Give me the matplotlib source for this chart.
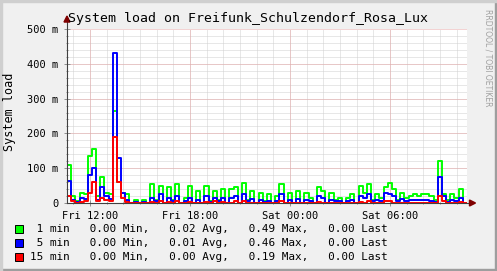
import matplotlib
matplotlib.use("Agg")
import matplotlib.pyplot as plt
import numpy as np
from matplotlib.patches import Rectangle, Polygon

# time axis: hours since Fri 00:00, 15 minute samples
t_start = 10.62
t_step = 0.25
t_end = 34.62

# system load in milli units (m)
load1 = [110, 20, 5, 30, 25, 135, 155, 20, 75, 30, 25, 265, 60, 30, 25, 0,
         10, 0, 10, 0, 55, 10, 50, 0, 45, 10, 55, 0, 15, 50, 0, 35,
         0, 50, 5, 35, 10, 40, 0, 40, 45, 0, 58, 10, 35, 0, 30, 5,
         25, 0, 20, 55, 0, 30, 0, 35, 0, 30, 15, 0, 45, 35, 0, 30,
         10, 15, 0, 15, 25, 0, 48, 30, 55, 10, 25, 15, 45, 58, 40, 10,
         30, 15, 20, 25, 20, 25, 25, 20, 10, 120, 25, 10, 25, 15, 40, 0]
load5 = [62, 10, 3, 15, 12, 80, 100, 10, 45, 20, 12, 432, 130, 30, 10, 0,
         3, 0, 3, 0, 15, 5, 25, 0, 15, 5, 20, 0, 5, 15, 0, 10,
         0, 20, 3, 15, 5, 15, 0, 15, 20, 0, 25, 5, 12, 0, 10, 3,
         5, 0, 5, 25, 0, 10, 0, 12, 0, 10, 5, 0, 20, 15, 0, 10,
         5, 5, 0, 5, 8, 0, 20, 15, 25, 5, 10, 5, 30, 25, 20, 5,
         12, 5, 8, 10, 8, 10, 10, 5, 3, 75, 20, 3, 8, 5, 15, 0]
load15 = [20, 5, 0, 3, 5, 30, 60, 5, 15, 8, 5, 190, 60, 15, 3, 0,
          0, 0, 0, 0, 3, 0, 5, 0, 3, 0, 5, 0, 0, 3, 0, 0,
          0, 3, 0, 5, 0, 3, 0, 0, 5, 0, 5, 0, 0, 0, 0, 0,
          0, 0, 0, 5, 0, 0, 0, 0, 0, 0, 0, 0, 3, 0, 0, 0,
          0, 0, 0, 0, 0, 0, 3, 0, 5, 0, 0, 0, 5, 5, 0, 0,
          0, 0, 0, 0, 0, 0, 0, 0, 0, 20, 5, 0, 0, 0, 3, 0]

tick_hours = [12, 18, 24, 30]
tick_labels = ["Fri 12:00", "Fri 18:00", "Sat 00:00", "Sat 06:00"]
y_ticks = [0, 100, 200, 300, 400, 500]
y_labels = ["0", "100 m", "200 m", "300 m", "400 m", "500 m"]

series = [
    (" 1 min", load1, "#00ff00", "0.00", "0.02", "0.49", "0.00"),
    (" 5 min", load5, "#0000ff", "0.00", "0.01", "0.46", "0.00"),
    ("15 min", load15, "#ff0000", "0.00", "0.00", "0.19", "0.00"),
]

W, H = 497, 271
fig = plt.figure(figsize=(W / 100, H / 100), dpi=100)
fig.patch.set_facecolor("#f0f0f0")
mono = "DejaVu Sans Mono"

# plot area in pixels
x0, x1, y0, y1 = 67, 467, 203, 29
ax = fig.add_axes([x0 / W, 1 - y0 / H, (x1 - x0) / W, (y0 - y1) / H])
ax.set_facecolor("white")
ax.set_xlim(t_start, t_end)
ax.set_ylim(0, 500)

for s in ["top", "right", "left", "bottom"]:
    ax.spines[s].set_visible(False)

# grid
minor_x = np.arange(11, 35, 1)
minor_y = np.arange(20, 500, 20)
for v in minor_x:
    ax.axvline(v, color="#d0d0d0", lw=0.72, ls=(0, (1, 1)), zorder=1)
for v in minor_y:
    ax.axhline(v, color="#d0d0d0", lw=0.72, ls=(0, (1, 1)), zorder=1)
for v in tick_hours:
    ax.axvline(v, color="#e8a8a8", lw=0.72, ls=(0, (1, 1)), zorder=1.5)
for v in y_ticks[1:]:
    ax.axhline(v, color="#e8a8a8", lw=0.72, ls=(0, (1, 1)), zorder=1.5)

# data lines
n = len(load1)
edges = t_start + t_step * np.arange(n + 1)
for name, vals, col, *_ in series:
    v = list(vals) + [vals[-1]]
    ax.step(edges, v, where="post", color=col, lw=1.4, zorder=3)

ax.set_xticks(tick_hours)
ax.set_xticklabels(tick_labels, fontfamily=mono, fontsize=7.5)
ax.set_xticks(minor_x, minor=True)
ax.set_yticks(y_ticks)
ax.set_yticklabels(y_labels, fontfamily=mono, fontsize=7.5)
ax.set_yticks(minor_y, minor=True)
ax.tick_params(axis="both", which="both", direction="inout", color="#909090",
               width=0.7, pad=4)
ax.tick_params(axis="both", which="major", length=4)
ax.tick_params(axis="both", which="minor", length=2)

# axes with arrows
ax.plot([t_start, t_start], [0, 520], color="#404040", lw=0.8, clip_on=False, zorder=4)
ax.plot([t_start, t_end + 0.15], [0, 0], color="#404040", lw=0.8, clip_on=False, zorder=4)
dx = (t_end - t_start) / 400
dy = 500 / 174
ax.add_patch(Polygon([[t_start - 3 * dx, 520], [t_start + 3 * dx, 520], [t_start, 520 + 6 * dy]],
                     closed=True, color="#7f0000", clip_on=False, zorder=5))
ax.add_patch(Polygon([[t_end + 0.15, -3 * dy], [t_end + 0.15, 3 * dy], [t_end + 0.15 + 6 * dx, 0]],
                     closed=True, color="#7f0000", clip_on=False, zorder=5))

fig.text(248 / W, 1 - 19 / H, "System load on Freifunk_Schulzendorf_Rosa_Lux",
         fontfamily=mono, fontsize=9.5, ha="center", va="center")
fig.text(10 / W, 1 - 112 / H, "System load", fontfamily=mono, fontsize=8.5,
         rotation=90, ha="center", va="center")
fig.text(488 / W, 1 - 58 / H, "RRDTOOL / TOBI OETIKER", fontsize=5.5, color="#a0a0a0",
         rotation=270, ha="center", va="center")

# legend rows
rows_y = [229, 243, 257]
for (name, vals, col, mn, avg, mx, last), yy in zip(series, rows_y):
    fig.patches.append(Rectangle((15 / W, 1 - (yy + 4) / H), 8 / W, 8 / H,
                                 transform=fig.transFigure, facecolor=col,
                                 edgecolor="black", lw=0.7))
    txt = f"{name}   {mn} Min,   {avg} Avg,   {mx} Max,   {last} Last"
    fig.text(30 / W, 1 - yy / H, txt, fontfamily=mono, fontsize=7.95, ha="left", va="center")

# 3d frame
fig.patches.append(Rectangle((0, 0), 1, 2 / H, transform=fig.transFigure, color="#9e9e9e"))
fig.patches.append(Rectangle((1 - 2 / W, 0), 2 / W, 1, transform=fig.transFigure, color="#9e9e9e"))
fig.patches.append(Rectangle((0, 1 - 2 / H), 1, 2 / H, transform=fig.transFigure, color="#cfcfcf"))
fig.patches.append(Rectangle((0, 0), 2 / W, 1, transform=fig.transFigure, color="#cfcfcf"))

fig.savefig("out.png", dpi=100, facecolor=fig.get_facecolor())
